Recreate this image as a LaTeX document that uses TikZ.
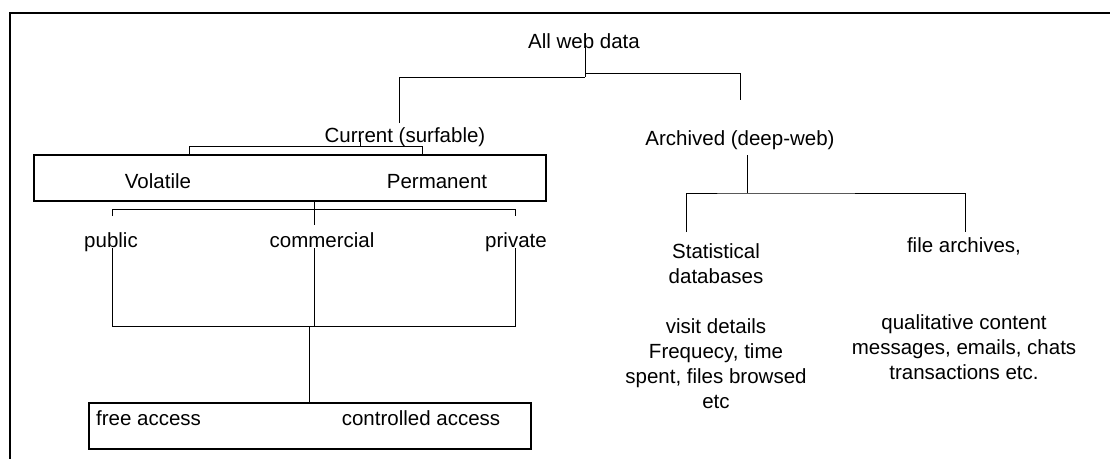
\documentclass[tikz,border=0pt]{standalone}
\usepackage{fontspec}
\setmainfont{Liberation Sans}
\usetikzlibrary{calc}

\begin{document}
\begin{tikzpicture}[x=1pt,y=-1pt,
  lbl/.style={inner sep=0pt,align=center,font=\fontsize{20.5}{25}\selectfont},
  one/.style={lbl,text height=15pt,text depth=1pt},
  tree/.style={line width=0.9pt},
  boxed/.style={draw,line width=1.2pt,inner sep=0pt}]
  \useasboundingbox (0,0) rectangle (1110,459);
  \draw[line width=2pt] (1110,13) -- (10,13) -- (10,459);
  % labels
  \node[one] (root) at (584,41) {All web data};
  \node[one] (cur) at (405,135) {Current (surfable)};
  \node[one] (arc) at (740,138) {Archived (deep-web)};
  \node[boxed,minimum width=512,minimum height=46] (tempbox) at (290,178) {};
  \node[one] (vol) at (158,181) {Volatile};
  \node[one] (perm) at (437,181) {Permanent};
  \node[one] (pub) at (111,240) {public};
  \node[one] (com) at (322,240) {commercial};
  \node[one] (priv) at (516,240) {private};
  \node[boxed,minimum width=442,minimum height=46] (accbox) at (310,426) {};
  \node[one,anchor=west] (free) at (96,418) {free access};
  \node[one] (ctrl) at (421,418) {controlled access};
  \node[lbl] (stat) at (716,264) {Statistical\\databases};
  \node[lbl] (visit) at (716,364) {visit details\\Frequecy, time\\spent, files browsed\\etc};
  \node[one] (file) at (964,245) {file archives,};
  \node[lbl] (qual) at (964,347) {qualitative content\\messages, emails, chats\\transactions etc.};
  % branch points
  \coordinate (rstem) at (585,33);
  \coordinate (lbar) at (585,77);
  \coordinate (rbar) at (585,73);
  \coordinate (curend) at (399,123);
  \coordinate (arcend) at (740,100);
  \coordinate (cstem) at (360,138);
  \coordinate (volend) at (189,146);
  \coordinate (permend) at (422,146);
  \coordinate (tstem) at (314,225);
  \coordinate (pubtick) at (112,216);
  \coordinate (privtick) at (515,216);
  \coordinate (jn) at (309,326);
  \coordinate (astem) at (747,155);
  \coordinate (abar) at (747,193);
  \coordinate (statend) at (686,232);
  \coordinate (fileend) at (965,232);
  % connectors
  \draw[tree] (rstem) -- (lbar);
  \draw[tree] (curend) |- (lbar);
  \draw[tree] (rbar) -| (arcend);
  \draw[tree] (cstem) -- (cstem |- volend);
  \draw[tree] (tempbox.north -| volend) -- (volend) -- (permend) -- (tempbox.north -| permend);
  \draw[tree] (tempbox.south -| tstem) -- (tstem);
  \draw[tree] (pubtick) -- ++(0,-7) -| (privtick);
  \draw[tree] (pub.south -| pubtick) |- (privtick |- jn) -- (priv.south -| privtick);
  \draw[tree] (com.south -| tstem) -- (tstem |- jn);
  \draw[tree] (jn) -- (accbox.north -| jn);
  \draw[tree] (astem) -- (abar);
  \draw[tree] (statend) |- (abar) -| (fileend);
\end{tikzpicture}
\end{document}
